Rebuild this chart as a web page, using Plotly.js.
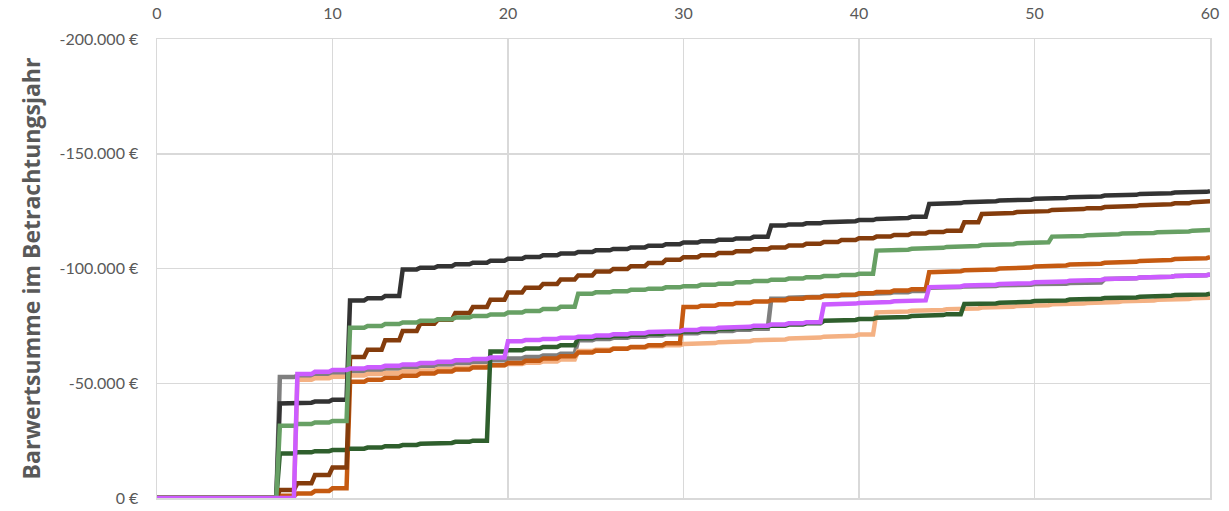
<!DOCTYPE html>
<html>
<head>
<meta charset="utf-8">
<script src="https://cdn.plot.ly/plotly-3.0.1.min.js"></script>
<style>html,body{margin:0;padding:0;background:#fff;}#chart{width:1229px;height:511px;}</style>
</head>
<body>
<div id="chart"></div>
<script>
// Years of the observation period
const years = [0,1,2,3,4,5,6,7,8,9,10,11,12,13,14,15,16,17,18,19,20,21,22,23,24,25,26,27,28,29,30,31,32,33,34,35,36,37,38,39,40,41,42,43,44,45,46,47,48,49,50,51,52,53,54,55,56,57,58,59,60];

// Present-value sums (EUR, negative), one value per year
const seriesBlack = [0,0,0,0,0,0,0,-41200,-41500,-42000,-42800,-86100,-87000,-88000,-99600,-100300,-101000,-101800,-102500,-103400,-104200,-105000,-105800,-106500,-107200,-107900,-108500,-109200,-109900,-110600,-111300,-111900,-112500,-113100,-113800,-118700,-119200,-119700,-120200,-120600,-121100,-121600,-122000,-122500,-128100,-128500,-128900,-129300,-129600,-130000,-130400,-130700,-131100,-131400,-131800,-132100,-132500,-132800,-133100,-133400,-133700];
const seriesBrown = [0,0,0,0,0,0,0,-3500,-6400,-10000,-13300,-61400,-64600,-68700,-72800,-75900,-77700,-80600,-83200,-86400,-89500,-91600,-93300,-95200,-97000,-98700,-99800,-101000,-102400,-103800,-104900,-105800,-106700,-107500,-108400,-109200,-110000,-110800,-111600,-112400,-113200,-113900,-114600,-115300,-115900,-116500,-120100,-123800,-124200,-124600,-125000,-125500,-125900,-126300,-126800,-127200,-127600,-128000,-128400,-128900,-129300];
const seriesGreen = [0,0,0,0,0,0,0,-31500,-32200,-32900,-33600,-74200,-75000,-75800,-76500,-77200,-77900,-78600,-79300,-80000,-80800,-81500,-82300,-83300,-89000,-89600,-90100,-90700,-91200,-91800,-92300,-92900,-93400,-94000,-94500,-95100,-95600,-96200,-96700,-97200,-97700,-107800,-108200,-108600,-109000,-109400,-109800,-110200,-110600,-111000,-111400,-113900,-114200,-114500,-114900,-115200,-115500,-115800,-116100,-116500,-116800];
const seriesOrange = [0,0,0,0,0,0,0,-1000,-2000,-3000,-4200,-50600,-51500,-52400,-53300,-54200,-55100,-56000,-56900,-57800,-58800,-59800,-60800,-61800,-63400,-64200,-65000,-65800,-66600,-67400,-83200,-83800,-84400,-85000,-85600,-86200,-86800,-87400,-88000,-88600,-89200,-89800,-90400,-91000,-98400,-98800,-99200,-99600,-100000,-100400,-100900,-101300,-101700,-102100,-102500,-102900,-103300,-103700,-104100,-104500,-104900];
const seriesGray = [0,0,0,0,0,0,0,-52700,-53300,-53900,-54600,-55200,-55800,-56400,-57000,-57600,-58200,-58800,-59400,-60000,-60800,-61400,-62100,-62900,-68700,-69300,-69800,-70300,-70800,-71300,-71800,-72300,-72800,-73300,-73800,-86800,-87300,-87700,-88100,-88500,-88900,-89300,-89700,-90200,-91600,-91900,-92200,-92400,-92700,-92900,-93200,-93400,-93700,-93900,-95400,-95700,-96100,-96400,-96700,-97100,-97400];
const seriesMagenta = [0,0,0,0,0,0,0,0,-54000,-55000,-55800,-56400,-57000,-57600,-58200,-58800,-59400,-60000,-60600,-61200,-68300,-68800,-69300,-69800,-70300,-70800,-71300,-71800,-72300,-72700,-73200,-73700,-74200,-74600,-75100,-75600,-76100,-76600,-84300,-84700,-85000,-85400,-85700,-86100,-91900,-92200,-92600,-92900,-93300,-93600,-94000,-94300,-94700,-95000,-95400,-95700,-96100,-96400,-96700,-97100,-97400];
const seriesDarkGreen = [0,0,0,0,0,0,0,-19400,-19900,-20400,-20900,-21500,-22000,-22600,-23100,-23600,-24000,-24500,-25000,-63800,-64400,-65100,-65800,-66600,-69600,-70100,-70600,-71100,-71600,-72100,-72600,-73100,-73600,-74100,-74600,-75100,-75600,-76100,-77200,-77600,-78000,-78500,-78900,-79300,-79700,-80100,-84500,-84800,-85100,-85500,-85800,-86100,-86500,-86800,-87100,-87400,-87700,-88100,-88400,-88700,-89000];
const seriesPeach = [0,0,0,0,0,0,0,0,-51500,-52200,-52800,-53400,-54000,-54500,-55100,-55600,-56200,-56700,-57300,-57800,-58400,-58900,-59500,-60300,-64000,-64600,-65100,-65600,-66100,-66600,-67100,-67500,-67900,-68300,-68700,-69100,-69500,-69900,-70300,-70700,-71200,-80900,-81300,-81600,-81900,-82300,-82600,-83000,-83300,-83700,-84000,-84400,-84700,-85000,-85400,-85700,-86000,-86400,-86700,-87000,-87300];

// Y tick labels
const yTickVals = [0,-50000,-100000,-150000,-200000];
const yTickText = ['0 €','-50.000 €','-100.000 €','-150.000 €','-200.000 €'];
const xTickVals = [0,10,20,30,40,50,60];

// Series drawn bottom to top
const seriesList = [
  {name:'Variante G', y: seriesGray, color:'#7F7F7F'},
  {name:'Variante H', y: seriesPeach, color:'#F4B183'},
  {name:'Variante D', y: seriesOrange, color:'#C55A11'},
  {name:'Variante F', y: seriesDarkGreen, color:'#2F5F2D'},
  {name:'Variante A', y: seriesBlack, color:'#333333'},
  {name:'Variante B', y: seriesBrown, color:'#843C0C'},
  {name:'Variante C', y: seriesGreen, color:'#67A064'},
  {name:'Variante E', y: seriesMagenta, color:'#CC5CFF'}
];

// yearly steps: the value changes over the last fifth of each year
const ramp = 0.2;
const traces = seriesList.map(s => {
  const xs = [], ys = [];
  years.forEach((yr, i) => {
    if (i > 0) { xs.push(yr - ramp); ys.push(s.y[i-1]); }
    xs.push(yr); ys.push(s.y[i]);
  });
  return {type:'scatter', mode:'lines', name:s.name, x:xs, y:ys,
          line:{color:s.color, width:4.5, shape:'linear'}, hoverinfo:'skip'};
});

const fontFam = 'Lato, "Open Sans", sans-serif';
const layout = {
  width:1229, height:511,
  margin:{l:157, r:19, t:39, b:13, pad:0},
  paper_bgcolor:'#FFFFFF', plot_bgcolor:'#FFFFFF',
  showlegend:false,
  font:{family:fontFam, color:'#595959'},
  xaxis:{
    side:'top', range:[0,60], tickvals:xTickVals, ticktext:xTickVals.map(String),
    showgrid:true, gridcolor:'#D9D9D9', gridwidth:1.5,
    zeroline:false, showline:true, linecolor:'#D9D9D9', linewidth:1.5, mirror:true,
    ticks:'', ticklabelstandoff:12,
    tickfont:{family:fontFam, size:16, color:'#595959'},
    fixedrange:true
  },
  yaxis:{
    range:[0,-200000], tickvals:yTickVals, ticktext:yTickText,
    showgrid:true, gridcolor:'#D9D9D9', gridwidth:1.5,
    zeroline:false, showline:true, linecolor:'#D9D9D9', linewidth:1.5, mirror:true,
    ticks:'', ticklabelstandoff:14,
    tickfont:{family:fontFam, size:16, color:'#595959'},
    title:{text:'<b>Barwertsumme im Betrachtungsjahr</b>', standoff:12,
           font:{family:'"Open Sans", "Noto Sans", sans-serif', size:23, color:'#595959'}},
    automargin:false, fixedrange:true
  }
};

Plotly.newPlot('chart', traces, layout, {staticPlot:true, displayModeBar:false});
</script>
</body>
</html>
